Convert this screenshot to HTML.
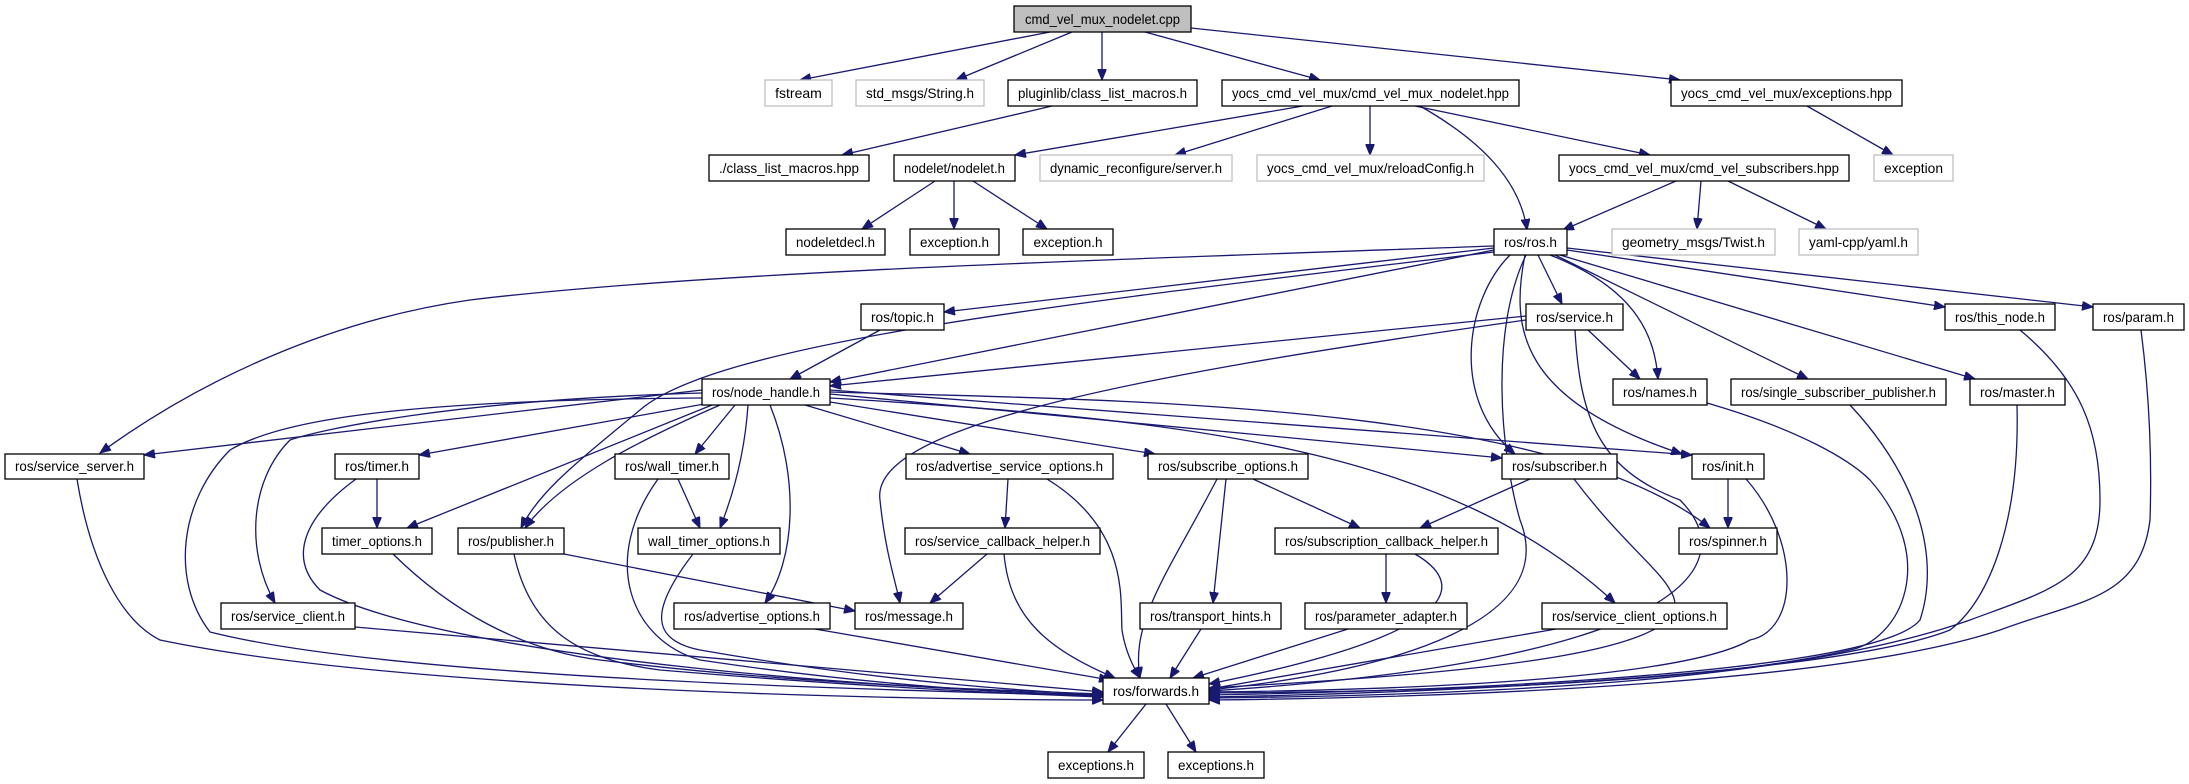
<!DOCTYPE html>
<html><head><meta charset="utf-8"><style>
html,body{margin:0;padding:0;background:#fff;}
svg{display:block;}
text{font-family:"Liberation Sans",sans-serif;font-size:14px;text-anchor:middle;fill:#000;}
.b{fill:#fff;stroke:#000;stroke-width:1.3;}
.g{fill:#fff;stroke:#bfbfbf;stroke-width:1.3;}
.e{fill:none;stroke:#191970;stroke-width:1.3;marker-end:url(#a);}
</style></head><body>
<svg width="2189" height="784" viewBox="0 0 2189 784" xmlns="http://www.w3.org/2000/svg">
<defs><marker id="a" markerUnits="userSpaceOnUse" markerWidth="12" markerHeight="9" refX="11" refY="4.5" orient="auto"><path d="M0,0 L11,4.5 L0,9 z" fill="#191970" stroke="#191970"/></marker></defs>

<!-- edges -->
<path class="e" d="M1050,32 L800,80"/>
<path class="e" d="M1072,32 L956,80"/>
<path class="e" d="M1102,32 L1102,80"/>
<path class="e" d="M1145,32 L1320,80"/>
<path class="e" d="M1191,28 L1680,80"/>
<path class="e" d="M1052,106 L842,155"/>
<path class="e" d="M1303,106 L1015,155"/>
<path class="e" d="M1332,106 L1175,155"/>
<path class="e" d="M1370,106 L1370,155"/>
<path class="e" d="M1415,106 L1650,155"/>
<path class="e" d="M1420,106 C1480,140 1520,180 1527,230"/>
<path class="e" d="M1807,106 L1893,155"/>
<path class="e" d="M935,181 L862,229"/>
<path class="e" d="M954,181 L954,229"/>
<path class="e" d="M973,181 L1047,229"/>
<path class="e" d="M1676,181 L1563,230"/>
<path class="e" d="M1701,181 L1697,229"/>
<path class="e" d="M1728,181 L1826,229"/>

<path class="e" d="M1494,246 C1100,260 700,272 470,300 C330,320 200,380 100,453"/>
<path class="e" d="M1494,248 L944,312"/>
<path class="e" d="M1494,250 L830,382"/>
<path class="e" d="M1494,252 C1100,300 720,340 640,410 C580,460 540,490 521,528"/>
<path class="e" d="M1538,255 L1562,304"/>
<path class="e" d="M1550,255 C1640,290 1655,340 1658,379"/>
<path class="e" d="M1510,255 C1465,300 1450,400 1515,454"/>
<path class="e" d="M1525,255 C1510,330 1520,400 1682,454"/>
<path class="e" d="M1555,255 L1808,379"/>
<path class="e" d="M1560,255 L1975,379"/>
<path class="e" d="M1567,250 L1945,307"/>
<path class="e" d="M1567,248 L2093,307"/>
<path class="e" d="M1526,255 C1490,330 1500,450 1520,520 C1560,620 1400,670 1209,690"/>

<path class="e" d="M1526,316 L830,386"/>
<path class="e" d="M1526,320 C1100,380 870,430 880,500 C885,550 895,580 900,603"/>
<path class="e" d="M1588,330 L1640,379"/>
<path class="e" d="M1575,330 C1580,420 1600,470 1680,500 C1740,560 1700,660 1209,691"/>
<path class="e" d="M880,330 L790,379"/>

<path class="e" d="M702,390 L144,455"/>
<path class="e" d="M710,403 L419,455"/>
<path class="e" d="M702,393 C450,400 320,430 290,440 C250,480 245,550 275,603"/>
<path class="e" d="M712,405 L407,528"/>
<path class="e" d="M720,405 C640,440 560,480 525,528"/>
<path class="e" d="M735,405 L695,454"/>
<path class="e" d="M748,405 C745,450 735,490 720,528"/>
<path class="e" d="M770,405 C800,480 795,560 765,603"/>
<path class="e" d="M805,405 L970,454"/>
<path class="e" d="M830,402 L1155,454"/>
<path class="e" d="M830,394 L1502,458"/>
<path class="e" d="M830,390 L1692,455"/>
<path class="e" d="M830,392 C1100,400 1550,400 1710,528"/>
<path class="e" d="M830,398 C1200,420 1450,450 1615,603"/>
<path class="e" d="M702,398 C400,400 280,420 230,450 C180,500 170,580 210,632 C400,680 900,690 1103,696"/>

<path class="e" d="M377,479 L377,528"/>
<path class="e" d="M356,479 C300,520 290,560 320,590 C450,660 900,690 1103,695"/>
<path class="e" d="M77,479 C90,560 120,620 160,640 C400,690 900,700 1103,700"/>
<path class="e" d="M355,627 L1103,692"/>
<path class="e" d="M393,554 C450,610 520,650 600,660 C800,685 1000,690 1103,694"/>
<path class="e" d="M564,554 L855,611"/>
<path class="e" d="M514,554 C530,630 580,660 660,670 C900,690 1050,695 1103,697"/>
<path class="e" d="M678,479 L700,528"/>
<path class="e" d="M658,479 C600,560 630,640 700,660 C900,690 1050,694 1103,696"/>
<path class="e" d="M693,554 C650,610 650,640 700,650 C900,685 1050,692 1103,695"/>
<path class="e" d="M815,629 L1110,680"/>
<path class="e" d="M1008,479 L1005,528"/>
<path class="e" d="M1047,479 C1130,530 1120,600 1122,630 C1125,650 1132,665 1140,678"/>
<path class="e" d="M987,554 L930,603"/>
<path class="e" d="M1004,554 C1010,620 1050,650 1115,678"/>
<path class="e" d="M1217,479 C1170,570 1130,620 1140,678"/>
<path class="e" d="M1226,479 L1213,603"/>
<path class="e" d="M1253,479 L1360,528"/>
<path class="e" d="M1386,554 L1386,603"/>
<path class="e" d="M1415,554 C1460,580 1480,630 1209,684"/>
<path class="e" d="M1201,629 L1170,678"/>
<path class="e" d="M1348,629 L1193,678"/>
<path class="e" d="M1530,479 L1420,528"/>
<path class="e" d="M1574,479 C1620,540 1660,570 1670,590 C1710,650 1500,672 1209,688"/>
<path class="e" d="M1556,629 L1209,689"/>
<path class="e" d="M1728,479 L1728,528"/>
<path class="e" d="M1746,479 C1800,540 1800,630 1750,640 C1680,680 1400,690 1209,692"/>
<path class="e" d="M1707,403 C1800,430 1850,460 1870,480 C1940,560 1900,640 1850,650 C1700,685 1400,692 1209,693"/>
<path class="e" d="M1850,405 C1920,480 1940,560 1920,620 C1880,670 1500,690 1209,695"/>
<path class="e" d="M2017,405 C2020,520 1990,600 1950,630 C1850,670 1500,692 1209,697"/>
<path class="e" d="M2020,330 C2080,380 2100,430 2100,500 C2100,580 2050,590 1970,620 C1800,680 1500,695 1209,698"/>
<path class="e" d="M2141,330 C2150,400 2152,460 2150,520 C2140,600 2080,600 2000,630 C1850,680 1500,697 1209,700"/>
<path class="e" d="M1146,704 L1108,752"/>
<path class="e" d="M1166,704 L1196,752"/>

<!-- nodes -->
<rect x="1014" y="6" width="177" height="26" fill="#bfbfbf" stroke="#000" stroke-width="1.3"/><text x="1102.5" y="24" textLength="155" lengthAdjust="spacingAndGlyphs">cmd_vel_mux_nodelet.cpp</text>

<rect class="g" x="765" y="80" width="67" height="26"/><text x="798.5" y="98">fstream</text>
<rect class="g" x="856" y="80" width="128" height="26"/><text x="920" y="98" textLength="108" lengthAdjust="spacingAndGlyphs">std_msgs/String.h</text>
<rect class="b" x="1008" y="80" width="189" height="26"/><text x="1102.5" y="98" textLength="169" lengthAdjust="spacingAndGlyphs">pluginlib/class_list_macros.h</text>
<rect class="b" x="1222" y="80" width="297" height="26"/><text x="1370.5" y="98" textLength="277" lengthAdjust="spacingAndGlyphs">yocs_cmd_vel_mux/cmd_vel_mux_nodelet.hpp</text>
<rect class="b" x="1671" y="80" width="231" height="26"/><text x="1786.5" y="98" textLength="211" lengthAdjust="spacingAndGlyphs">yocs_cmd_vel_mux/exceptions.hpp</text>

<rect class="b" x="709" y="155" width="160" height="26"/><text x="789" y="173" textLength="140" lengthAdjust="spacingAndGlyphs">./class_list_macros.hpp</text>
<rect class="b" x="894" y="155" width="121" height="26"/><text x="954.5" y="173" textLength="101" lengthAdjust="spacingAndGlyphs">nodelet/nodelet.h</text>
<rect class="g" x="1040" y="155" width="192" height="26"/><text x="1136" y="173" textLength="172" lengthAdjust="spacingAndGlyphs">dynamic_reconfigure/server.h</text>
<rect class="g" x="1257" y="155" width="227" height="26"/><text x="1370.5" y="173" textLength="207" lengthAdjust="spacingAndGlyphs">yocs_cmd_vel_mux/reloadConfig.h</text>
<rect class="b" x="1559" y="155" width="290" height="26"/><text x="1704" y="173" textLength="270" lengthAdjust="spacingAndGlyphs">yocs_cmd_vel_mux/cmd_vel_subscribers.hpp</text>
<rect class="g" x="1874" y="155" width="79" height="26"/><text x="1913.5" y="173" textLength="59" lengthAdjust="spacingAndGlyphs">exception</text>

<rect class="b" x="786" y="229" width="99" height="26"/><text x="835.5" y="247" textLength="79" lengthAdjust="spacingAndGlyphs">nodeletdecl.h</text>
<rect class="b" x="910" y="229" width="89" height="26"/><text x="954.5" y="247" textLength="69" lengthAdjust="spacingAndGlyphs">exception.h</text>
<rect class="b" x="1023" y="229" width="90" height="26"/><text x="1068" y="247" textLength="69" lengthAdjust="spacingAndGlyphs">exception.h</text>
<rect class="b" x="1494" y="229" width="73" height="26"/><text x="1530.5" y="247" textLength="53" lengthAdjust="spacingAndGlyphs">ros/ros.h</text>
<rect class="g" x="1612" y="229" width="163" height="26"/><text x="1693.5" y="247" textLength="143" lengthAdjust="spacingAndGlyphs">geometry_msgs/Twist.h</text>
<rect class="g" x="1799" y="229" width="119" height="26"/><text x="1858.5" y="247" textLength="99" lengthAdjust="spacingAndGlyphs">yaml-cpp/yaml.h</text>

<rect class="b" x="861" y="304" width="83" height="26"/><text x="902.5" y="322" textLength="63" lengthAdjust="spacingAndGlyphs">ros/topic.h</text>
<rect class="b" x="1526" y="304" width="97" height="26"/><text x="1574.5" y="322" textLength="77" lengthAdjust="spacingAndGlyphs">ros/service.h</text>
<rect class="b" x="1945" y="304" width="110" height="26"/><text x="2000" y="322" textLength="90" lengthAdjust="spacingAndGlyphs">ros/this_node.h</text>
<rect class="b" x="2093" y="304" width="91" height="26"/><text x="2138.5" y="322" textLength="71" lengthAdjust="spacingAndGlyphs">ros/param.h</text>

<rect class="b" x="702" y="379" width="128" height="26"/><text x="766" y="397" textLength="108" lengthAdjust="spacingAndGlyphs">ros/node_handle.h</text>
<rect class="b" x="1613" y="379" width="94" height="26"/><text x="1660" y="397" textLength="74" lengthAdjust="spacingAndGlyphs">ros/names.h</text>
<rect class="b" x="1731" y="379" width="215" height="26"/><text x="1838.5" y="397" textLength="195" lengthAdjust="spacingAndGlyphs">ros/single_subscriber_publisher.h</text>
<rect class="b" x="1970" y="379" width="95" height="26"/><text x="2017.5" y="397" textLength="75" lengthAdjust="spacingAndGlyphs">ros/master.h</text>

<rect class="b" x="5" y="454" width="139" height="25"/><text x="74.5" y="471" textLength="119" lengthAdjust="spacingAndGlyphs">ros/service_server.h</text>
<rect class="b" x="335" y="454" width="84" height="25"/><text x="377" y="471" textLength="64" lengthAdjust="spacingAndGlyphs">ros/timer.h</text>
<rect class="b" x="615" y="454" width="114" height="25"/><text x="672" y="471" textLength="94" lengthAdjust="spacingAndGlyphs">ros/wall_timer.h</text>
<rect class="b" x="906" y="454" width="207" height="25"/><text x="1009.5" y="471" textLength="187" lengthAdjust="spacingAndGlyphs">ros/advertise_service_options.h</text>
<rect class="b" x="1148" y="454" width="160" height="25"/><text x="1228" y="471" textLength="140" lengthAdjust="spacingAndGlyphs">ros/subscribe_options.h</text>
<rect class="b" x="1502" y="454" width="115" height="25"/><text x="1559.5" y="471" textLength="95" lengthAdjust="spacingAndGlyphs">ros/subscriber.h</text>
<rect class="b" x="1692" y="454" width="72" height="25"/><text x="1728" y="471" textLength="52" lengthAdjust="spacingAndGlyphs">ros/init.h</text>

<rect class="b" x="322" y="528" width="110" height="26"/><text x="377" y="546" textLength="90" lengthAdjust="spacingAndGlyphs">timer_options.h</text>
<rect class="b" x="458" y="528" width="106" height="26"/><text x="511" y="546" textLength="86" lengthAdjust="spacingAndGlyphs">ros/publisher.h</text>
<rect class="b" x="638" y="528" width="142" height="26"/><text x="709" y="546" textLength="122" lengthAdjust="spacingAndGlyphs">wall_timer_options.h</text>
<rect class="b" x="905" y="528" width="195" height="26"/><text x="1002.5" y="546" textLength="175" lengthAdjust="spacingAndGlyphs">ros/service_callback_helper.h</text>
<rect class="b" x="1275" y="528" width="223" height="26"/><text x="1386.5" y="546" textLength="203" lengthAdjust="spacingAndGlyphs">ros/subscription_callback_helper.h</text>
<rect class="b" x="1679" y="528" width="98" height="26"/><text x="1728" y="546" textLength="78" lengthAdjust="spacingAndGlyphs">ros/spinner.h</text>

<rect class="b" x="221" y="603" width="134" height="26"/><text x="288" y="621" textLength="114" lengthAdjust="spacingAndGlyphs">ros/service_client.h</text>
<rect class="b" x="674" y="603" width="156" height="26"/><text x="752" y="621" textLength="136" lengthAdjust="spacingAndGlyphs">ros/advertise_options.h</text>
<rect class="b" x="855" y="603" width="108" height="26"/><text x="909" y="621" textLength="88" lengthAdjust="spacingAndGlyphs">ros/message.h</text>
<rect class="b" x="1140" y="603" width="141" height="26"/><text x="1210.5" y="621" textLength="121" lengthAdjust="spacingAndGlyphs">ros/transport_hints.h</text>
<rect class="b" x="1305" y="603" width="162" height="26"/><text x="1386" y="621" textLength="142" lengthAdjust="spacingAndGlyphs">ros/parameter_adapter.h</text>
<rect class="b" x="1542" y="603" width="185" height="26"/><text x="1634.5" y="621" textLength="165" lengthAdjust="spacingAndGlyphs">ros/service_client_options.h</text>

<rect class="b" x="1103" y="678" width="106" height="26"/><text x="1156" y="696" textLength="86" lengthAdjust="spacingAndGlyphs">ros/forwards.h</text>

<rect class="b" x="1048" y="752" width="96" height="26"/><text x="1096" y="770" textLength="76" lengthAdjust="spacingAndGlyphs">exceptions.h</text>
<rect class="b" x="1168" y="752" width="96" height="26"/><text x="1216" y="770" textLength="76" lengthAdjust="spacingAndGlyphs">exceptions.h</text>
</svg>
</body></html>
